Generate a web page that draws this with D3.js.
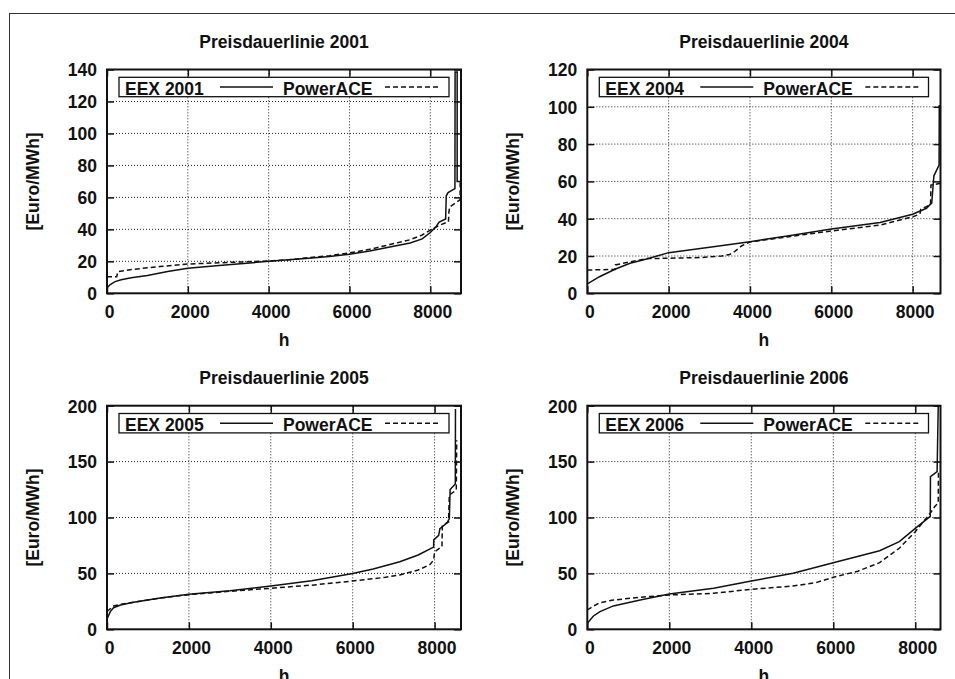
<!DOCTYPE html>
<html><head><meta charset="utf-8">
<script src="https://cdn.jsdelivr.net/npm/d3@7"></script>
<style>
body{margin:0;background:#fff}
svg{display:block}
text{font-family:"Liberation Sans",Arial,Helvetica,sans-serif;font-weight:bold;fill:#111}
</style>
</head><body>
<svg id="chart" width="955" height="679"></svg>
<script>
// ---- data (hours, Euro/MWh) ----
const years = ["2001", "2004", "2005", "2006"];
const yMaxes = [140, 120, 200, 200];
const xMaxes = [8760, 8685, 8645, 8615];
const xTickValues = [0, 2000, 4000, 6000, 8000];
const yTicks2001 = [0, 20, 40, 60, 80, 100, 120, 140];
const yTicks2004 = [0, 20, 40, 60, 80, 100, 120];
const yTicks2005 = [0, 50, 100, 150, 200];
const yTicks2006 = [0, 50, 100, 150, 200];
const seriesNames = ["EEX", "PowerACE"];

const eex2001 = [[0,3.5],[80,5.5],[200,7.3],[350,8.5],[600,9.7],[1000,11.2],[1500,13.6],[2000,15.6],[2700,17.2],[3300,18.5],[4000,20],[4500,21],[5000,22],[5500,23],[6000,24.5],[6500,26.5],[7000,29],[7500,31.5],[7800,34],[8000,38],[8150,42],[8220,44.5],[8380,46.5],[8395,61],[8440,63],[8610,65.5],[8614,138.5],[8665,138.5],[8665,70],[8760,70]];
const pace2001 = [[0,10.3],[240,10.4],[270,13.6],[650,15],[1300,16.7],[2000,18.3],[3100,19.4],[4000,20.2],[4500,21],[5000,22.3],[5500,23.5],[6000,25.3],[6500,27.5],[7000,30.5],[7500,33.5],[7800,36.5],[8000,39.5],[8240,42.7],[8450,44.8],[8460,50.6],[8480,54],[8737,58.5],[8740,70.8]];

const eex2004 = [[0,5],[300,8.9],[680,12.9],[1050,16.1],[1460,18.4],[2000,21.8],[3100,25],[4000,27.7],[5000,31],[6000,34.5],[7200,38],[8000,42.4],[8340,45.6],[8470,48.5],[8523,63],[8650,68.8],[8655,101]];
const pace2004 = [[0,12.5],[680,12.8],[690,15.2],[1050,16.9],[1460,18.6],[2000,18.8],[2800,19.2],[3300,20],[3500,20.8],[3600,22],[3800,25.5],[4000,27.5],[5000,30.5],[6000,33.4],[7200,36.6],[8000,41],[8180,42.5],[8200,45],[8440,47.5],[8450,58],[8685,59]];

const eex2005 = [[0,9],[80,15.8],[160,19.3],[330,21.7],[650,24.1],[1300,28],[2000,31.3],[3000,34.5],[4000,38.7],[5000,43.5],[6000,50],[6500,54],[7150,60.5],[7600,66.5],[7976,73.5],[7980,80],[8100,84],[8130,90],[8300,95],[8360,99],[8380,125],[8506,130],[8510,197]];
const pace2005 = [[0,16],[160,20.8],[330,22.4],[650,24.1],[1300,28],[2000,31],[3000,34],[4000,36.7],[5000,39.5],[6000,43.2],[6800,46.5],[7150,48.6],[7600,53],[7890,58],[7976,62],[8000,69.4],[8180,74],[8190,93],[8340,96],[8360,120],[8530,124.6],[8540,169]];

const eex2006 = [[0,5.4],[150,11.9],[310,15.8],[635,20.9],[1290,26.2],[2000,31.6],[3080,36.7],[4000,43.2],[5020,50.1],[6000,59.6],[7130,70.3],[7610,78.4],[8000,90.3],[8365,101],[8370,136.5],[8532,141],[8560,200]];
const pace2006 = [[0,17.3],[150,20.8],[310,23.8],[635,26.2],[1290,28.6],[2000,30.7],[3080,32.2],[4000,35.8],[5020,38.7],[5600,42],[6000,46.5],[6600,52],[7130,59.6],[7610,72.5],[8000,87.3],[8363,103.8],[8480,110],[8560,113],[8565,140]];

const eexSeries = [eex2001, eex2004, eex2005, eex2006];
const paceSeries = [pace2001, pace2004, pace2005, pace2006];
const yTickSets = [yTicks2001, yTicks2004, yTicks2005, yTicks2006];

// ---- layout ----
const panels = [
  {L:107, R:461, T:69.5, B:293.3},
  {L:587.3, R:940.5, T:69.5, B:293.3},
  {L:107, R:461, T:405.7, B:629.3},
  {L:587.3, R:940.5, T:405.7, B:629.3}
];
const FS = 17.5;
const svg = d3.select("#chart");

svg.append("rect").attr("x",9.5).attr("y",13.5).attr("width",1000).attr("height",1000)
  .attr("fill","none").attr("stroke","#333").attr("stroke-width",1);

panels.forEach((p, i) => {
  const g = svg.append("g");
  const x = d3.scaleLinear().domain([0, xMaxes[i]]).range([p.L, p.R]);
  const y = d3.scaleLinear().domain([0, yMaxes[i]]).range([p.B, p.T]);
  const yt = yTickSets[i];
  const cx = (p.L + p.R) / 2;

  // grid
  g.selectAll(".gx").data(xTickValues.filter(v => v > 0)).join("line")
    .attr("x1", d => x(d)).attr("x2", d => x(d)).attr("y1", p.B).attr("y2", p.T)
    .attr("stroke","#222").attr("stroke-width",1).attr("stroke-dasharray","1,2");
  g.selectAll(".gy").data(yt.filter(v => v > 0 && v < yMaxes[i])).join("line")
    .attr("x1", p.L).attr("x2", p.R).attr("y1", d => y(d)).attr("y2", d => y(d))
    .attr("stroke","#222").attr("stroke-width",1).attr("stroke-dasharray","1,2");

  // legend box
  const lg = g.append("g");
  lg.append("rect").attr("x", p.L + 12).attr("y", p.T + 7.8).attr("width", p.R - p.L - 24).attr("height", 19.4)
    .attr("fill","#fff").attr("stroke","#111").attr("stroke-width",1.3);
  lg.append("text").attr("x", p.L + 18).attr("y", p.T + 25).attr("font-size", FS)
    .text(seriesNames[0] + " " + years[i]);
  lg.append("line").attr("x1", p.L + 113).attr("x2", p.L + 166).attr("y1", p.T + 17.5).attr("y2", p.T + 17.5)
    .attr("stroke","#111").attr("stroke-width",1.4);
  lg.append("text").attr("x", p.L + 176).attr("y", p.T + 25).attr("font-size", FS)
    .text(seriesNames[1]);
  lg.append("line").attr("x1", p.L + 278).attr("x2", p.L + 331).attr("y1", p.T + 17.5).attr("y2", p.T + 17.5)
    .attr("stroke","#111").attr("stroke-width",1.4).attr("stroke-dasharray","5,3");

  // curves
  const clipId = "clip" + i;
  svg.append("clipPath").attr("id", clipId).append("rect")
    .attr("x", p.L).attr("y", p.T).attr("width", p.R - p.L).attr("height", p.B - p.T);
  const line = d3.line().x(d => x(d[0])).y(d => y(d[1]));
  g.append("path").datum(eexSeries[i]).attr("d", line).attr("clip-path", `url(#${clipId})`)
    .attr("fill","none").attr("stroke","#111").attr("stroke-width",1.5);
  g.append("path").datum(paceSeries[i]).attr("d", line).attr("clip-path", `url(#${clipId})`)
    .attr("fill","none").attr("stroke","#111").attr("stroke-width",1.5).attr("stroke-dasharray","5,3");

  // axes (inward ticks, mirrored)
  const ax = g.append("g").attr("transform", `translate(0,${p.B})`)
    .call(d3.axisBottom(x).tickValues(xTickValues).tickSize(-7).tickPadding(0).tickFormat(d3.format("d")));
  ax.selectAll("text").attr("font-size", FS).attr("dy", null).attr("y", 24.5).attr("dx", 2)
    .attr("fill","#111").attr("font-family",'"Liberation Sans",Arial,sans-serif');
  g.append("g").attr("transform", `translate(0,${p.T})`)
    .call(d3.axisTop(x).tickValues(xTickValues).tickSize(-7).tickFormat(""));
  const ay = g.append("g").attr("transform", `translate(${p.L},0)`)
    .call(d3.axisLeft(y).tickValues(yt).tickSize(-7).tickPadding(0).tickFormat(d3.format("d")));
  ay.selectAll("text").attr("font-size", FS).attr("x", -10).attr("dy", "0.36em")
    .attr("fill","#111").attr("font-family",'"Liberation Sans",Arial,sans-serif');
  g.append("g").attr("transform", `translate(${p.R},0)`)
    .call(d3.axisRight(y).tickValues(yt).tickSize(-7).tickFormat(""));
  g.selectAll(".domain").remove();
  g.selectAll(".tick line").attr("stroke","#111").attr("stroke-width",1.5);

  // border
  g.append("rect").attr("x", p.L).attr("y", p.T).attr("width", p.R - p.L).attr("height", p.B - p.T)
    .attr("fill","none").attr("stroke","#111").attr("stroke-width",2);

  // titles / labels
  g.append("text").attr("x", cx).attr("y", p.T - 21.5).attr("text-anchor","middle").attr("font-size", FS)
    .text("Preisdauerlinie " + years[i]);
  g.append("text").attr("x", cx).attr("y", p.B + 52.5).attr("text-anchor","middle").attr("font-size", FS)
    .text("h");
  const ly = (p.T + p.B) / 2, lx = p.L - 74.5;
  g.append("text").attr("transform", `translate(${lx},${ly}) rotate(-90)`).attr("text-anchor","middle")
    .attr("dy","0.36em").attr("font-size", FS).text("[Euro/MWh]");
});
</script>
</body></html>
